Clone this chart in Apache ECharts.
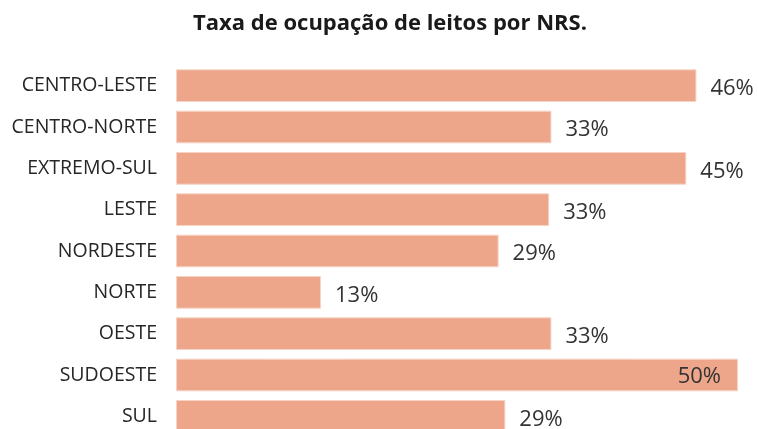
<!DOCTYPE html>
<html>
<head>
<meta charset="utf-8">
<title>Taxa de ocupação de leitos por NRS</title>
<script src="https://cdn.jsdelivr.net/npm/echarts@6/dist/echarts.min.js"></script>
<style>
html, body { margin: 0; padding: 0; background: #fff; }
#chart { width: 758px; height: 429px; }
</style>
</head>
<body>
<div id="chart"></div>
<script>
// regiões (NRS) e taxa de ocupação em %
var regioes = ['CENTRO-LESTE', 'CENTRO-NORTE', 'EXTREMO-SUL', 'LESTE', 'NORDESTE', 'NORTE', 'OESTE', 'SUDOESTE', 'SUL'];
var taxa = [46.3, 33.4, 45.4, 33.2, 28.7, 12.9, 33.4, 50.0, 29.3];

var myChart = echarts.init(document.getElementById('chart'));

// a barra maior leva o rótulo por dentro
var maxVal = Math.max.apply(null, taxa);
var dados = taxa.map(function (v) {
	var item = { value: v };
	if (v === maxVal) {
		item.label = { position: 'insideRight', distance: 17, offset: [0, 2] };
	}
	return item;
});

var option = {
	animation: false,
	title: {
		text: 'Taxa de ocupação de leitos por NRS.',
		left: 385,
		textAlign: 'center',
		top: 8,
		textStyle: {
			fontFamily: 'Open Sans',
			fontSize: 22,
			fontWeight: 'bold',
			color: '#1a1a1a'
		}
	},
	grid: {
		left: 176,
		right: 20,
		top: 65,
		height: 372,
		containLabel: false,
		outerBoundsMode: 'none'
	},
	xAxis: {
		type: 'value',
		min: 0,
		max: 50,
		show: false
	},
	yAxis: {
		type: 'category',
		data: regioes,
		inverse: true,
		axisLine: { show: false },
		axisTick: { show: false },
		axisLabel: {
			margin: 19,
			fontFamily: 'Open Sans',
			fontSize: 19.5,
			color: '#262626'
		}
	},
	series: [{
		type: 'bar',
		data: dados,
		barCategoryGap: '21%',
		itemStyle: {
			color: '#eda68a',
			borderColor: '#f6d3c4',
			borderWidth: 1
		},
		label: {
			show: true,
			position: 'right',
			distance: 14,
			offset: [0, 3],
			fontFamily: 'Open Sans',
			fontSize: 22,
			color: '#333333',
			formatter: function (p) { return Math.round(p.value) + '%'; }
		}
	}]
};

myChart.setOption(option);
</script>
</body>
</html>
